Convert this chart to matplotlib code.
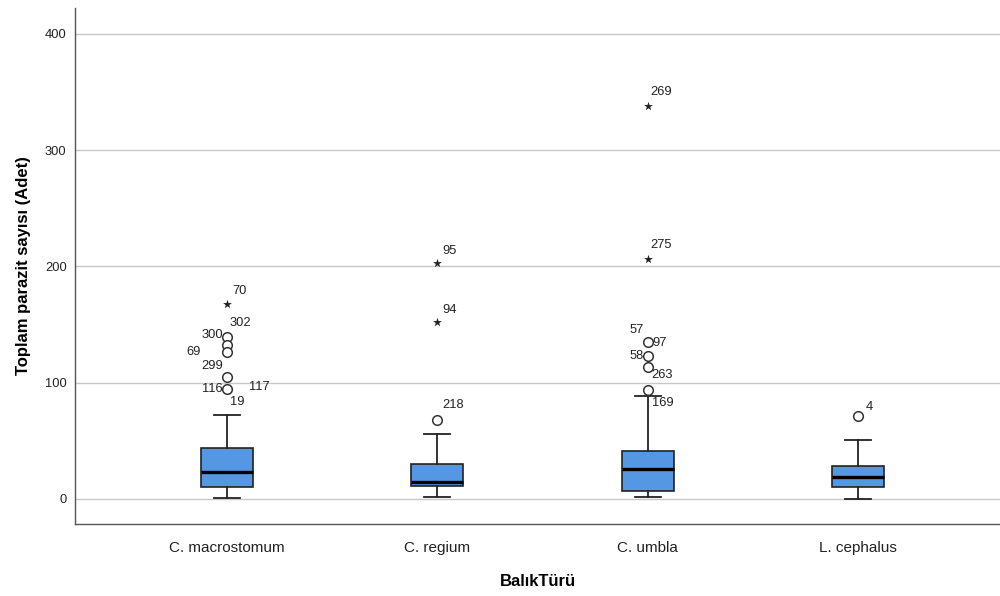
import matplotlib
matplotlib.use("Agg")
import matplotlib.pyplot as plt

plt.rcParams.update({"font.family": ["Liberation Sans", "DejaVu Sans"]})

# veri
species = ["C. macrostomum", "C. regium", "C. umbla", "L. cephalus"]
q1 = [10.3, 11.2, 7.2, 10.6]
median = [23.2, 14.9, 25.5, 19.2]
q3 = [43.9, 29.8, 41.3, 28.7]
whislo = [1.0, 1.4, 1.7, 0.3]
whishi = [72.3, 55.9, 88.9, 50.8]

# aykırı değerler (daire) ve uç değerler (yıldız)
outliers = [[139.1, 132.5, 126.2, 105.2, 94.9],
            [68.0],
            [135.3, 123.0, 113.8, 93.8],
            [71.4]]
extremes = [[167.7], [203.3, 152.0], [338.0, 206.5], []]

# vaka numarası etiketleri: (grup, değer, etiket, dx, dy, hizalama)
labels = [
    (0, 167.7, "70", 5, 13, "left"),
    (0, 139.1, "302", 3, 14, "left"),
    (0, 139.1, "300", -4, 2, "right"),
    (0, 126.2, "69", -26, 0, "right"),
    (0, 105.2, "299", -4, 11, "right"),
    (0, 94.9, "116", -4, 0, "right"),
    (0, 94.9, "117", 22, 2, "left"),
    (0, 94.9, "19", 3, -13, "left"),
    (1, 203.3, "95", 5, 12, "left"),
    (1, 152.0, "94", 5, 12, "left"),
    (1, 68.0, "218", 5, 15, "left"),
    (2, 338.0, "269", 3, 14, "left"),
    (2, 206.5, "275", 3, 14, "left"),
    (2, 135.3, "57", -4, 12, "right"),
    (2, 135.3, "97", 5, -1, "left"),
    (2, 123.0, "58", -4, 0, "right"),
    (2, 113.8, "263", 4, -8, "left"),
    (2, 93.8, "169", 4, -13, "left"),
    (3, 71.4, "4", 8, 9, "left"),
]

BOX_C, EDGE_C, GRID_C = "#5597E3", "#222222", "#c8c8c8"

fig = plt.figure(figsize=(10, 5.96), dpi=100)
ax = fig.add_axes([0.075, 0.121, 0.925, 0.866])

stats = [dict(med=m, q1=a, q3=b, whislo=lo, whishi=hi, fliers=[], label=s)
         for s, a, m, b, lo, hi in zip(species, q1, median, q3, whislo, whishi)]
pos = list(range(len(species)))
ax.bxp(stats, positions=pos, widths=0.247, patch_artist=True, showfliers=False,
       boxprops=dict(facecolor=BOX_C, edgecolor=EDGE_C, linewidth=1.2),
       medianprops=dict(color="black", linewidth=2.4),
       whiskerprops=dict(color=EDGE_C, linewidth=1.3),
       capprops=dict(color=EDGE_C, linewidth=1.3), capwidths=0.124, zorder=3)

for i, (out, ext) in enumerate(zip(outliers, extremes)):
    ax.scatter([i] * len(out), out, s=48, facecolors="white",
               edgecolors="#333333", linewidths=1.1, zorder=4)
    if ext:
        ax.scatter([i] * len(ext), ext, s=45, marker="*", color="#222222",
                   linewidths=0, zorder=4)

for g, v, t, dx, dy, ha in labels:
    ax.annotate(t, (g, v), textcoords="offset pixels", xytext=(dx, dy),
                ha=ha, va="center", fontsize=9.3, color="#222222")

ax.set_xlim(-0.722, 3.674)
ax.set_ylim(-21.5, 422.4)
ax.set_yticks([0, 100, 200, 300, 400])
ax.yaxis.grid(True, color=GRID_C, linewidth=1.0, zorder=0)
ax.set_axisbelow(True)
ax.tick_params(axis="both", length=0)
ax.tick_params(axis="y", labelsize=9.3, pad=6, colors="#222222")
ax.tick_params(axis="x", labelsize=11, pad=12, colors="#222222")
ax.set_xticks(pos)
ax.set_xticklabels(species)
for s in ("top", "right"):
    ax.spines[s].set_visible(False)
for s in ("left", "bottom"):
    ax.spines[s].set_color("#555555")
    ax.spines[s].set_linewidth(1.0)

ax.set_ylabel("Toplam parazit sayısı (Adet)", fontsize=12, fontweight="bold", labelpad=10)
ax.set_xlabel("BalıkTürü", fontsize=12, fontweight="bold", labelpad=14)

fig.savefig("out.png", dpi=100)
